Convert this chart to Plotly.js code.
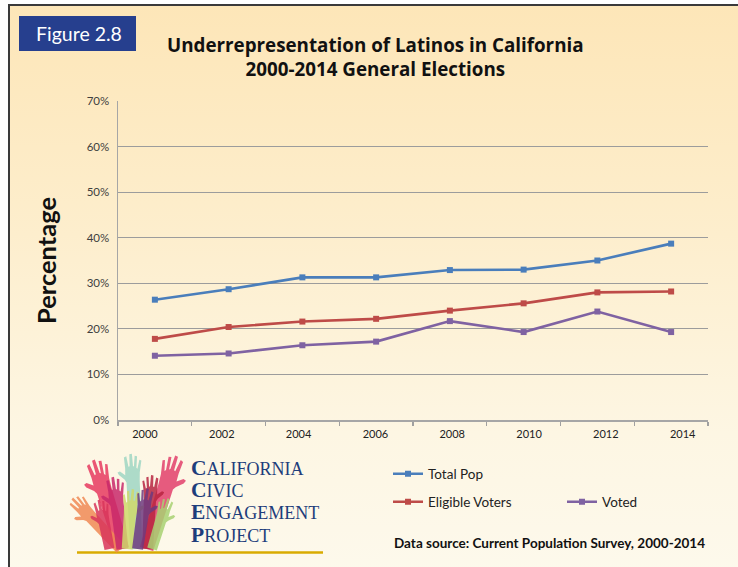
<!DOCTYPE html>
<html>
<head>
<meta charset="utf-8">
<script src="https://cdn.plot.ly/plotly-3.0.1.min.js"></script>
<style>
  html, body { margin: 0; padding: 0; background: #ffffff; }
  #frame {
    position: absolute; left: 8px; top: 4px; width: 740px; height: 570px;
    border-top: 2px solid #3a3a3a; border-left: 2px solid #3a3a3a;
    background: linear-gradient(to bottom, #fde6b8 0%, #fdeecd 40%, #fdf6e3 75%, #fdf9ec 100%);
  }
  #chart { position: absolute; left: 0; top: 0; width: 738px; height: 567px; }
</style>
</head>
<body>
<div id="frame"></div>
<div id="chart"></div>
<script>
// ---- data ----
const years = [2000, 2002, 2004, 2006, 2008, 2010, 2012, 2014];
const xLabels = ['2000', '2002', '2004', '2006', '2008', '2010', '2012', '2014'];
const totalPop = [26.4, 28.7, 31.3, 31.3, 32.9, 33.0, 35.0, 38.7];
const eligibleVoters = [17.8, 20.4, 21.6, 22.2, 24.0, 25.6, 28.0, 28.2];
const voted = [14.1, 14.6, 16.4, 17.2, 21.7, 19.3, 23.8, 19.3];
const seriesNames = ['Total Pop', 'Eligible Voters', 'Voted'];
const yTicks = [0, 10, 20, 30, 40, 50, 60, 70];
const yTickLabels = ['0%', '10%', '20%', '30%', '40%', '50%', '60%', '70%'];

// ---- page geometry helpers (plot area: x 118..708, y 101..420) ----
const W = 738, H = 567;
const M = {l: 118, r: 30, t: 101, b: 147};
const PW = W - M.l - M.r, PH = H - M.t - M.b;
const px = x => (x - M.l) / PW;
const py = y => (H - M.b - y) / PH;

const FONT = 'Lato, "Open Sans", sans-serif';
const TFONT = '"Open Sans", Lato, sans-serif';
const colors = ['#4a7ebb', '#be4b48', '#7f62a2'];

function lineTrace(name, y, color, legend) {
  return {
    type: 'scatter', mode: 'lines+markers', name: name,
    x: years, y: y,
    line: {color: color, width: 2.6},
    marker: {symbol: 'square', size: 6, color: color},
    legend: legend, hoverinfo: 'x+y+name'
  };
}

const traces = [
  lineTrace(seriesNames[0], totalPop, colors[0], 'legend'),
  lineTrace(seriesNames[1], eligibleVoters, colors[1], 'legend2'),
  lineTrace(seriesNames[2], voted, colors[2], 'legend3'),
  // carrier for the label axis
  {type: 'scatter', mode: 'markers', x: years, y: years.map(() => null),
   xaxis: 'x2', showlegend: false, hoverinfo: 'skip', marker: {opacity: 0}}
];

// ---- logo hands (decoration) ----
const handPts = [
  [-0.55, -0.1], [-0.7, 0.15], [-1.15, 0.55], [-1.25, 0.78], [-1.05, 0.85], [-0.62, 0.52],
  [-0.6, 1.1], [-0.66, 2.0], [-0.46, 2.08], [-0.32, 1.2],
  [-0.22, 1.25], [-0.2, 2.25], [0.02, 2.28], [0.06, 1.25],
  [0.14, 1.2], [0.24, 2.1], [0.44, 2.05], [0.34, 1.1],
  [0.42, 1.0], [0.62, 1.75], [0.78, 1.68], [0.6, 0.7],
  [0.56, 0.0]
];
const hands = [
  {cx: 133, cy: 481, s: 12, a: -0.05, m: 1, c: '#9fd6c3'},
  {cx: 104, cy: 490, s: 14, a: -0.3, m: 1, c: '#e63a5f'},
  {cx: 166, cy: 486, s: 14, a: 0.3, m: -1, c: '#e2406b'},
  {cx: 90, cy: 516, s: 11, a: -0.75, m: 1, c: '#f08a55'},
  {cx: 150, cy: 500, s: 11, a: 0.05, m: -1, c: '#b7243f'},
  {cx: 117, cy: 504, s: 12, a: -0.12, m: 1, c: '#c8286a'},
  {cx: 130, cy: 514, s: 11, a: 0.08, m: -1, c: '#cfd96b'},
  {cx: 143, cy: 513, s: 11, a: 0.15, m: -1, c: '#6e3a7e'},
  {cx: 161, cy: 520, s: 10, a: 0.3, m: -1, c: '#a8d172'},
  {cx: 104, cy: 522, s: 10, a: -0.2, m: 1, c: '#d8355a'}
];
function handPath(h) {
  const ca = Math.cos(h.a), sa = Math.sin(h.a);
  const L = (549 - h.cy) / (h.s * ca);
  const pts = [[-0.5, -L]].concat(handPts).concat([[0.5, -L]]);
  return 'M' + pts.map(p => {
    const x = h.m * p[0], y = p[1];
    const xr = x * ca + y * sa, yr = -x * sa + y * ca;
    const X = h.cx + h.s * xr, Y = h.cy - h.s * yr;
    return px(X).toFixed(4) + ',' + py(Y).toFixed(4);
  }).join('L') + 'Z';
}

const shapes = [
  {type: 'rect', xref: 'paper', yref: 'paper', x0: px(19), x1: px(136), y0: py(51), y1: py(16),
   fillcolor: '#263f8e', line: {width: 0}, layer: 'above'},
  {type: 'line', xref: 'paper', yref: 'paper', x0: px(77), x1: px(323), y0: py(552.5), y1: py(552.5),
   line: {color: '#d9ab00', width: 2.5}}
].concat(hands.map(h => ({
  type: 'path', xref: 'paper', yref: 'paper', path: handPath(h),
  fillcolor: h.c, opacity: 0.85, line: {width: 0}
})));

const logoLine = (big, rest) =>
  '<span style="font-size:21.5px"><b>' + big + '</b></span>' + rest;

const annotations = [
  {text: 'Figure 2.8', xref: 'paper', yref: 'paper', x: px(79), y: py(33.5),
   xanchor: 'center', yanchor: 'middle', showarrow: false,
   font: {family: FONT, size: 19.5, color: '#ffffff'}},
  {text: '<b>Underrepresentation of Latinos in California<br>2000-2014 General Elections</b>',
   xref: 'paper', yref: 'paper', x: px(375), y: py(57), xanchor: 'center', yanchor: 'middle',
   showarrow: false, font: {family: TFONT, size: 18.8, color: '#111111'}},
  {text: '<b>Data source: Current Population Survey, 2000-2014</b>',
   xref: 'paper', yref: 'paper', x: px(392), y: py(543), xanchor: 'left', yanchor: 'middle',
   showarrow: false, font: {family: FONT, size: 13.5, color: '#111111'}},
  {text: logoLine('C', 'ALIFORNIA'), x: px(189), y: py(468)},
  {text: logoLine('C', 'IVIC'), x: px(189), y: py(490)},
  {text: logoLine('E', 'NGAGEMENT'), x: px(189), y: py(512)},
  {text: logoLine('P', 'ROJECT'), x: px(189), y: py(535)}
].map((a, i) => i < 3 ? a : Object.assign(a, {
  xref: 'paper', yref: 'paper', xanchor: 'left', yanchor: 'middle', showarrow: false,
  font: {family: '"Liberation Serif", "DejaVu Serif", serif', size: 18, color: '#1e3d7b'}
}));

const legendBase = {
  orientation: 'v', bgcolor: 'rgba(0,0,0,0)', borderwidth: 0,
  font: {family: FONT, size: 13.5, color: '#222222'},
  xanchor: 'left', yanchor: 'middle', itemwidth: 30
};

const layout = {
  width: W, height: H,
  margin: M,
  paper_bgcolor: 'rgba(0,0,0,0)', plot_bgcolor: 'rgba(0,0,0,0)',
  font: {family: FONT, color: '#333333'},
  showlegend: true,
  xaxis: {
    range: [1999, 2015], tickmode: 'linear', tick0: 1999, dtick: 2,
    ticks: 'outside', ticklen: 4, tickcolor: '#a0a0a0', tickwidth: 1.3,
    showticklabels: false, showline: true, linecolor: '#a6a6a6', linewidth: 1.5,
    showgrid: false, zeroline: false, fixedrange: true
  },
  xaxis2: {
    overlaying: 'x', side: 'bottom', range: [1999.297, 2014.66],
    tickmode: 'array', tickvals: years, ticktext: xLabels,
    ticks: '', showline: false, showgrid: false, zeroline: false,
    tickfont: {family: FONT, size: 11, color: '#222222'}, ticklabelstandoff: 6
  },
  yaxis: {
    range: [0, 70], tickmode: 'array', tickvals: yTicks, ticktext: yTickLabels,
    showline: true, linecolor: '#a6a6a6', linewidth: 1.5,
    showgrid: true, gridcolor: '#9c9c9c', gridwidth: 1.2, zeroline: false,
    ticks: '', ticklabelstandoff: 5,
    tickfont: {family: FONT, size: 11.5, color: '#404040'},
    title: {text: '<b>Percentage</b>', font: {family: FONT, size: 25.5, color: '#111111'}, standoff: 22}
  },
  legend: Object.assign({}, legendBase, {x: px(388), y: py(474)}),
  legend2: Object.assign({}, legendBase, {x: px(388), y: py(502)}),
  legend3: Object.assign({}, legendBase, {x: px(562), y: py(502)}),
  shapes: shapes,
  annotations: annotations
};

Plotly.newPlot('chart', traces, layout, {displayModeBar: false, staticPlot: true});
</script>
</body>
</html>
